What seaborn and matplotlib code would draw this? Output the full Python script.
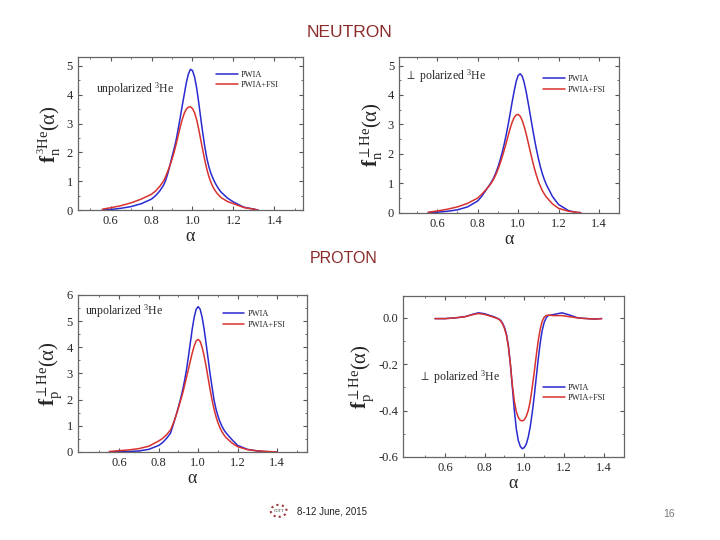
import numpy as np
import pandas as pd
import matplotlib
matplotlib.use("Agg")
import matplotlib.pyplot as plt
import seaborn as sns

# neutron, unpolarized 3He
a_n1 = [0.56, 0.60, 0.65, 0.70, 0.75, 0.80, 0.82, 0.84,
        0.86, 0.87, 0.88, 0.89, 0.90, 0.91, 0.92, 0.93, 0.94, 0.95, 0.96, 0.97, 0.98, 0.99,
        1.00, 1.01, 1.02, 1.03, 1.04, 1.05, 1.06, 1.07, 1.08, 1.09, 1.10, 1.11, 1.12, 1.13, 1.14,
        1.17, 1.20, 1.25, 1.30, 1.32]
pwia_n1 = [0.0, 0.02, 0.06, 0.12, 0.22, 0.38, 0.5, 0.66,
           0.88, 1.05, 1.28, 1.55, 1.85, 2.12, 2.42, 2.8, 3.2, 3.62, 4.02, 4.42, 4.72, 4.88,
           4.84, 4.62, 4.25, 3.75, 3.2, 2.68, 2.2, 1.8, 1.5, 1.27, 1.1, 0.95, 0.82, 0.71, 0.62,
           0.42, 0.28, 0.1, 0.03, 0.0]
fsi_n1 = [0.03, 0.08, 0.15, 0.25, 0.38, 0.55, 0.66, 0.82,
          1.02, 1.18, 1.36, 1.55, 1.76, 2.0, 2.28, 2.58, 2.88, 3.14, 3.36, 3.5, 3.57, 3.58,
          3.52, 3.38, 3.14, 2.82, 2.45, 2.08, 1.73, 1.42, 1.16, 0.96, 0.8, 0.68, 0.58, 0.5, 0.43,
          0.3, 0.22, 0.09, 0.03, 0.0]

# neutron, perp polarized 3He
a_n2 = [0.555, 0.60, 0.65, 0.70, 0.75, 0.80, 0.82, 0.84,
        0.86, 0.87, 0.88, 0.89, 0.90, 0.91, 0.92, 0.93, 0.94, 0.95, 0.96, 0.97, 0.98, 0.99,
        1.00, 1.01, 1.02, 1.03, 1.04, 1.05, 1.06, 1.07, 1.08, 1.09, 1.10, 1.11, 1.12, 1.13, 1.14,
        1.17, 1.20, 1.25, 1.29, 1.31]
pwia_n2 = [0.0, 0.02, 0.05, 0.1, 0.2, 0.4, 0.56, 0.76,
           0.96, 1.07, 1.2, 1.36, 1.55, 1.77, 2.02, 2.3, 2.62, 2.97, 3.35, 3.75, 4.12, 4.45,
           4.66, 4.72, 4.64, 4.42, 4.1, 3.72, 3.32, 2.92, 2.53, 2.17, 1.85, 1.56, 1.32, 1.12, 0.95,
           0.55, 0.28, 0.07, 0.01, 0.0]
fsi_n2 = [0.02, 0.06, 0.12, 0.2, 0.32, 0.5, 0.63, 0.78,
          0.94, 1.04, 1.16, 1.3, 1.47, 1.66, 1.87, 2.1, 2.35, 2.6, 2.85, 3.07, 3.23, 3.32,
          3.34, 3.28, 3.14, 2.93, 2.67, 2.38, 2.08, 1.79, 1.52, 1.28, 1.07, 0.9, 0.75, 0.63, 0.53,
          0.3, 0.15, 0.05, 0.015, 0.0]

# proton, unpolarized 3He
a_p1 = [0.55, 0.60, 0.65, 0.70, 0.75, 0.80, 0.82, 0.84,
        0.86, 0.87, 0.88, 0.89, 0.90, 0.91, 0.92, 0.93, 0.94, 0.95, 0.96, 0.97, 0.98, 0.99,
        1.00, 1.01, 1.02, 1.03, 1.04, 1.05, 1.06, 1.07, 1.08, 1.09, 1.10, 1.11, 1.12, 1.13, 1.14,
        1.17, 1.20, 1.25, 1.30, 1.35, 1.40]
pwia_p1 = [0.0, 0.01, 0.02, 0.04, 0.1, 0.25, 0.36, 0.52,
           0.72, 0.95, 1.2, 1.45, 1.72, 2.0, 2.32, 2.68, 3.1, 3.6, 4.15, 4.7, 5.15, 5.45,
           5.55, 5.45, 5.15, 4.7, 4.15, 3.58, 3.0, 2.5, 2.0, 1.65, 1.38, 1.16, 0.99, 0.85, 0.74,
           0.48, 0.25, 0.1, 0.04, 0.01, 0.0]
fsi_p1 = [0.02, 0.05, 0.08, 0.13, 0.22, 0.42, 0.52, 0.66,
          0.84, 1.02, 1.22, 1.44, 1.68, 1.94, 2.2, 2.5, 2.82, 3.14, 3.46, 3.78, 4.05, 4.24,
          4.3, 4.22, 4.0, 3.68, 3.28, 2.84, 2.4, 2.0, 1.65, 1.36, 1.12, 0.93, 0.78, 0.66, 0.56,
          0.35, 0.2, 0.09, 0.04, 0.02, 0.0]

# proton, perp polarized 3He
a_p2 = [0.55, 0.60, 0.65, 0.70, 0.75, 0.77, 0.80, 0.85, 0.87,
        0.88, 0.89, 0.90, 0.91, 0.92, 0.93, 0.94, 0.95, 0.96, 0.97, 0.98, 0.99, 1.00,
        1.01, 1.02, 1.03, 1.04, 1.05, 1.06, 1.07, 1.08, 1.09, 1.10, 1.11, 1.12,
        1.15, 1.19, 1.23, 1.27, 1.30, 1.35, 1.39]
pwia_p2 = [-0.003, -0.003, 0.0, 0.005, 0.018, 0.022, 0.018, 0.004, -0.004,
           -0.01, -0.022, -0.04, -0.07, -0.12, -0.2, -0.3, -0.4, -0.48, -0.53, -0.555, -0.565, -0.56,
           -0.545, -0.515, -0.47, -0.41, -0.34, -0.26, -0.18, -0.11, -0.055, -0.02, 0.0, 0.01,
           0.015, 0.022, 0.012, 0.0, -0.002, -0.005, -0.003]
fsi_p2 = [-0.003, -0.003, 0.0, 0.005, 0.016, 0.019, 0.015, 0.002, -0.005,
          -0.012, -0.025, -0.045, -0.075, -0.125, -0.2, -0.29, -0.36, -0.405, -0.43, -0.442, -0.445, -0.44,
          -0.425, -0.4, -0.36, -0.3, -0.235, -0.165, -0.1, -0.05, -0.015, 0.003, 0.01, 0.012,
          0.01, 0.01, 0.005, 0.0, -0.002, -0.005, -0.003]

sns.set_style("ticks")
plt.rcParams["font.family"] = ["Liberation Serif", "DejaVu Serif"]
plt.rcParams["mathtext.fontset"] = "custom"
plt.rcParams["mathtext.rm"] = "Liberation Serif"
plt.rcParams["mathtext.it"] = "Liberation Serif:italic"
plt.rcParams["mathtext.bf"] = "Liberation Serif:bold"

fig = plt.figure(figsize=(7.2, 5.4), dpi=100)

panels = [
    dict(pos=[0.108, 0.611, 0.313, 0.283], a=a_n1, p=pwia_n1, f=fsi_n1,
         xlim=(0.44, 1.54), ylim=(0, 5.3), yticks=[0, 1, 2, 3, 4, 5], ymin=0.5, yfmt="%d",
         ylabel=r"$\mathbf{f}_{\mathrm{n}}^{\,^{3}\mathrm{He}}\mathrm{(α)}$",
         note="unpolarized $^3$He", note_xy=(0.08, 0.85), leg=(0.58, 0.96)),
    dict(pos=[0.554, 0.606, 0.306, 0.289], a=a_n2, p=pwia_n2, f=fsi_n2,
         xlim=(0.41, 1.48), ylim=(0, 5.3), yticks=[0, 1, 2, 3, 4, 5], ymin=0.5, yfmt="%d",
         ylabel=r"$\mathbf{f}_{\mathrm{n}}^{\perp\mathrm{He}}\mathrm{(α)}$",
         note=r"$\perp$ polarized $^3$He", note_xy=(0.03, 0.93), leg=(0.62, 0.93)),
    dict(pos=[0.108, 0.163, 0.318, 0.291], a=a_p1, p=pwia_p1, f=fsi_p1,
         xlim=(0.39, 1.55), ylim=(0, 6), yticks=[0, 1, 2, 3, 4, 5, 6], ymin=0.5, yfmt="%d",
         ylabel=r"$\mathbf{f}_{\mathrm{p}}^{\perp\mathrm{He}}\mathrm{(α)}$",
         note="unpolarized $^3$He", note_xy=(0.03, 0.95), leg=(0.6, 0.95)),
    dict(pos=[0.560, 0.154, 0.306, 0.298], a=a_p2, p=pwia_p2, f=fsi_p2,
         xlim=(0.39, 1.48), ylim=(-0.6, 0.095), yticks=[0.0, -0.2, -0.4, -0.6], ymin=0.1,
         yfmt="%.1f",
         ylabel=r"$\mathbf{f}_{\mathrm{p}}^{\perp\mathrm{He}}\mathrm{(α)}$",
         note=r"$\perp$ polarized $^3$He", note_xy=(0.07, 0.55), leg=(0.6, 0.5)),
]

for pn in panels:
    ax = fig.add_axes(pn["pos"])
    df = pd.DataFrame({"alpha": pn["a"] * 2,
                       "f": pn["p"] + pn["f"],
                       "model": ["PWIA"] * len(pn["a"]) + ["PWIA+FSI"] * len(pn["a"])})
    sns.lineplot(data=df, x="alpha", y="f", hue="model",
                 palette={"PWIA": "#2a2ad0", "PWIA+FSI": "#d8322e"},
                 linewidth=1.1, ax=ax, legend=True)
    ax.set_xlim(pn["xlim"])
    ax.set_ylim(pn["ylim"])
    ax.set_xticks([0.6, 0.8, 1.0, 1.2, 1.4])
    ax.set_xticks(np.arange(0.5, 1.55, 0.1), minor=True)
    ax.set_yticks(pn["yticks"])
    ax.yaxis.set_minor_locator(matplotlib.ticker.MultipleLocator(pn["ymin"]))
    ax.yaxis.set_major_formatter(matplotlib.ticker.FormatStrFormatter(pn["yfmt"]))
    ax.tick_params(which="both", direction="in", top=True, right=True,
                   labelsize=9, color="#555555", length=3)
    ax.tick_params(which="minor", length=1.5)
    for s in ax.spines.values():
        s.set_color("#666666")
        s.set_linewidth(0.9)
    ax.set_xlabel("α", fontsize=13, labelpad=1)
    ax.set_ylabel(pn["ylabel"], fontsize=15, labelpad=2)
    ax.text(pn["note_xy"][0], pn["note_xy"][1], pn["note"], transform=ax.transAxes,
            fontsize=8.5, va="top")
    ax.legend(title=None, loc="upper left", bbox_to_anchor=pn["leg"], frameon=False,
              fontsize=6, handlelength=2.6, handletextpad=0.4, labelspacing=0.3)

fig.text(0.486, 0.94, "NEUTRON", ha="center", va="center", fontsize=12.5,
         color="#8b2a2a", family=["Liberation Sans", "DejaVu Sans"])
fig.text(0.477, 0.522, "PROTON", ha="center", va="center", fontsize=11.5,
         color="#8b2a2a", family=["Liberation Sans", "DejaVu Sans"])
fig.text(0.412, 0.052, "8-12 June, 2015", ha="left", va="center", fontsize=7,
         color="#222222", family=["Liberation Sans", "DejaVu Sans"])
fig.text(0.929, 0.048, "16", ha="center", va="center", fontsize=7.5,
         color="#777777", family=["Liberation Sans", "DejaVu Sans"])
logo = plt.Circle((0.387, 0.054), 0.011, transform=fig.transFigure, fill=False,
                  edgecolor="#9b3a3a", linestyle=":", linewidth=1.5)
fig.add_artist(logo)
fig.text(0.387, 0.054, "COTT", ha="center", va="center", fontsize=3, color="#333333")

fig.savefig("out.png", dpi=100)
